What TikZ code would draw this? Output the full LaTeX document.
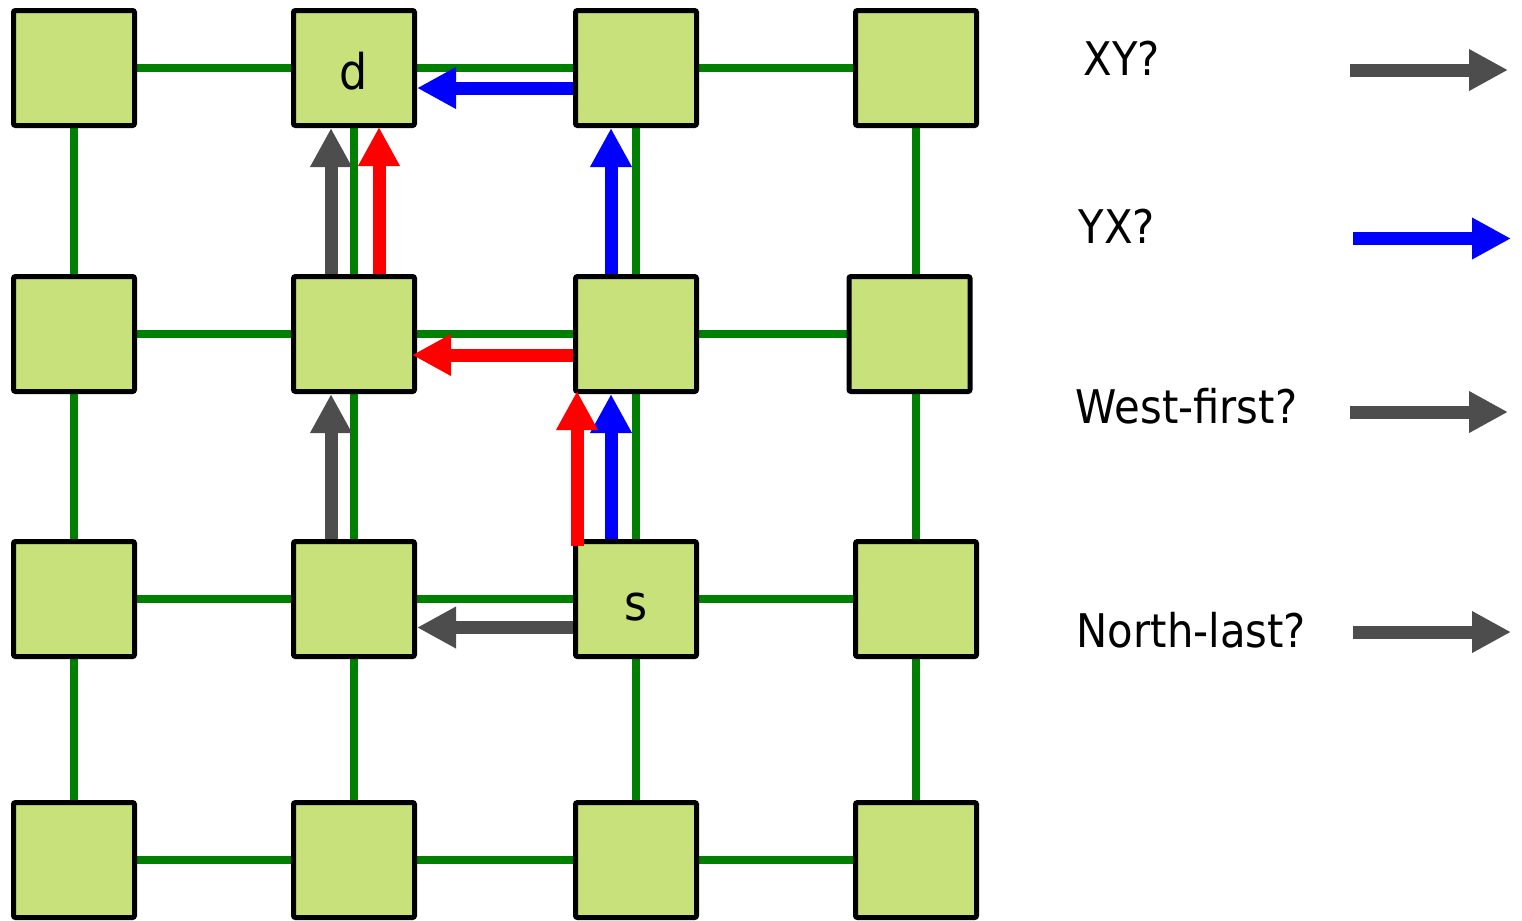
\documentclass[tikz,border=0pt]{standalone}
\usepackage{fontspec}
\setmainfont{DejaVu Sans}[FakeStretch=0.9]
\usetikzlibrary{arrows.meta,backgrounds}
\definecolor{routerfill}{RGB}{200,225,122}
\definecolor{linkgreen}{RGB}{0,128,0}
\definecolor{pathgray}{RGB}{77,77,77}
\begin{document}
\begin{tikzpicture}[every node/.style={font=\fontsize{13.2}{15}\selectfont},
  router/.style={draw,line width=0.05cm,fill=routerfill,rounded corners=0.02cm,minimum width=1.21cm,minimum height=1.15cm,inner sep=0pt},
  tag/.style={font=\fontsize{14}{16}\selectfont,text height=0.42cm,text depth=0cm},
  link/.style={linkgreen,line width=0.075cm},
  route/.style={line width=0.13cm,-{Triangle[length=0.39cm,width=0.39cm]}}]
\useasboundingbox (0,0) rectangle (15.22,-9.2);
% 4x4 mesh, green links behind the routers
\foreach \r/\y in {1/0.68,2/3.34,3/5.99,4/8.60} {\foreach \c/\x in {1/0.74,2/3.54,3/6.36,4/9.16} {\pgfmathsetmacro{\dx}{(\r==2)*(\c==4)*(-0.065)} \node[router] (n\r\c) at (\x+\dx,-\y) {};}}
\begin{scope}[on background layer,transform canvas={shift={(0.015,-0.02)}}]
\foreach \i in {1,...,4} {\draw[link] (n\i1) -- (n\i4); \draw[link] (n1\i) -- (n4\i);}
\end{scope}
\node[tag] (dst) at (n12) {d};
\node[tag] (src) at (n33) {s};
% routes from s to d
\draw[route,pathgray] ([yshift=-0.285cm]n33.west) -- ([yshift=-0.285cm]n32.east);
\draw[route,pathgray] ([xshift=-0.23cm]n32.north) -- ([xshift=-0.23cm]n22.south);
\draw[route,pathgray] ([xshift=-0.23cm]n22.north) -- ([xshift=-0.23cm]n12.south);
\draw[route,blue] ([xshift=-0.25cm]n33.north) -- ([xshift=-0.25cm]n23.south);
\draw[route,blue] ([xshift=-0.25cm]n23.north) -- ([xshift=-0.25cm]n13.south);
\draw[route,blue] ([yshift=-0.20cm]n13.west) -- ([yshift=-0.20cm]n12.east);
\draw[route,red] ([xshift=-0.59cm,yshift=-0.07cm]n33.north) -- ([xshift=-0.59cm,yshift=0.03cm]n23.south);
\draw[route,red] ([yshift=-0.21cm]n23.west) -- ([xshift=-0.05cm,yshift=-0.21cm]n22.east);
\draw[route,red] ([xshift=0.25cm]n22.north) -- ([xshift=0.25cm,yshift=0.01cm]n12.south);
% legend
\node[anchor=base west,inner sep=0pt] (lxy) at (10.83,-0.75) {XY?};
\node[anchor=base west,inner sep=0pt] (lyx) at (10.78,-2.43) {YX?};
\node[anchor=base west,inner sep=0pt] (lwf) at (10.75,-4.23) {West-first?};
\node[anchor=base west,inner sep=0pt] (lnl) at (10.76,-6.47) {North-last?};
\coordinate (axy0) at (13.50,-0.70); \coordinate (axy1) at (15.08,-0.70);
\coordinate (ayx0) at (13.53,-2.385); \coordinate (ayx1) at (15.11,-2.385);
\coordinate (awf0) at (13.50,-4.12); \coordinate (awf1) at (15.08,-4.12);
\coordinate (anl0) at (13.53,-6.32); \coordinate (anl1) at (15.11,-6.32);
\draw[route,pathgray] (axy0) -- (axy1);
\draw[route,blue] (ayx0) -- (ayx1);
\draw[route,pathgray] (awf0) -- (awf1);
\draw[route,pathgray] (anl0) -- (anl1);
\end{tikzpicture}
\end{document}
